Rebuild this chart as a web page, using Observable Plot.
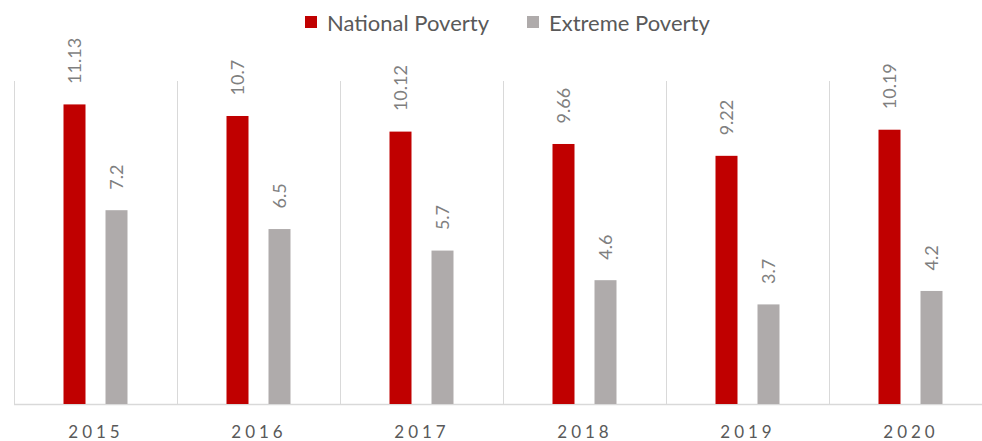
<!DOCTYPE html>
<html>
<head>
<meta charset="utf-8">
<script src="https://cdn.jsdelivr.net/npm/d3@7"></script>
<script src="https://cdn.jsdelivr.net/npm/@observablehq/plot@0.6"></script>
<style>
  html, body { margin: 0; padding: 0; background: #fff; }
  #wrap { position: relative; width: 982px; height: 441px; }
  #legend { position: absolute; left: 0; top: 0; width: 982px; height: 40px; font-family: Lato, sans-serif; font-size: 22px; color: #595959; z-index: 2; }
  .item { position: absolute; top: 6px; display: flex; align-items: center; height: 32px; }
  .sw { width: 12px; height: 12px; margin-right: 10px; }
  #chart { position: absolute; left: 0; top: 0; }
  #chart svg .xt text { letter-spacing: 4px; }
</style>
</head>
<body>
<div id="wrap">
  <div id="chart"></div>
  <div id="legend"></div>
</div>
<script>
const years = ["2015", "2016", "2017", "2018", "2019", "2020"];
const national = [11.13, 10.7, 10.12, 9.66, 9.22, 10.19];
const extreme = [7.2, 6.5, 5.7, 4.6, 3.7, 4.2];
const seriesNames = ["National Poverty", "Extreme Poverty"];
const seriesColors = ["#C00000", "#AFABAB"];

// legend
const legend = document.getElementById("legend");
const legendLeft = [305, 527];
seriesNames.forEach((name, i) => {
  const it = document.createElement("div");
  it.className = "item";
  it.style.left = legendLeft[i] + "px";
  it.innerHTML = `<span class="sw" style="background:${seriesColors[i]}"></span><span>${name}</span>`;
  legend.appendChild(it);
});

const natData = years.map((y, i) => ({year: y, value: national[i]}));
const extData = years.map((y, i) => ({year: y, value: extreme[i]}));

const plot = Plot.plot({
  width: 982,
  height: 441,
  marginTop: 81,
  marginBottom: 37,
  marginLeft: 14,
  marginRight: 0,
  style: {fontFamily: "Lato, sans-serif", background: "transparent"},
  x: {domain: years, range: [14, 992], padding: 0, axis: null},
  y: {domain: [0, 12], axis: null},
  marks: [
    Plot.ruleX(years, {x: d => d, dx: -81.5, y1: 0, y2: 12, stroke: "#d9d9d9", strokeWidth: 1}),
    Plot.ruleY([0], {stroke: "#d9d9d9", strokeWidth: 1.5}),
    Plot.barY(natData, {x: "year", y: "value", fill: seriesColors[0], insetLeft: 70.5, insetRight: 70.5, dx: -21}),
    Plot.barY(extData, {x: "year", y: "value", fill: seriesColors[1], insetLeft: 70.5, insetRight: 70.5, dx: 21}),
    Plot.text(natData, {x: "year", y: "value", text: d => String(d.value), rotate: -90, textAnchor: "start", lineAnchor: "middle", dx: -21, dy: -21, fill: "#7f7f7f", fontSize: 18}),
    Plot.text(extData, {x: "year", y: "value", text: d => String(d.value), rotate: -90, textAnchor: "start", lineAnchor: "middle", dx: 21, dy: -21, fill: "#7f7f7f", fontSize: 18}),
    Plot.text(years, {x: d => d, y: 0, text: d => d, dy: 28, fill: "#595959", fontSize: 17, lineAnchor: "middle", className: "xt"})
  ]
});
document.getElementById("chart").appendChild(plot);
</script>
</body>
</html>
